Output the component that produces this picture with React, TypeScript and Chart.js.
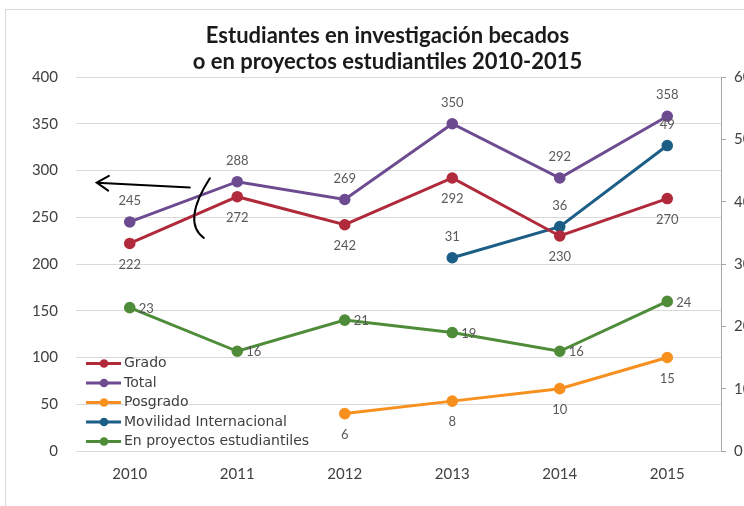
import React, { useEffect, useRef } from "react";
import { Chart, registerables } from "chart.js";

Chart.register(...registerables);

const years = ["2010", "2011", "2012", "2013", "2014", "2015"];
const grado = [222, 272, 242, 292, 230, 270];
const total = [245, 288, 269, 350, 292, 358];
const posgrado = [null, null, 6, 8, 10, 15];
const movilidad = [null, null, null, 31, 36, 49];
const proyectos = [23, 16, 21, 19, 16, 24];
const seriesNames = ["Grado", "Total", "Posgrado", "Movilidad Internacional", "En proyectos estudiantiles"];
const titleLines = ["Estudiantes en investigación becados", "o en proyectos estudiantiles 2010-2015"];

const COLORS = ["#B12A3C", "#6C4B90", "#F7901E", "#1C5E86", "#4F8C39"];

const overlay = {
  id: "overlay",
  afterDatasetsDraw(chart: any) {
    const ctx = chart.ctx;
    const ca = chart.chartArea;
    const xs = chart.scales.x;
    const ys = chart.scales.y;

    // data labels
    chart.data.datasets.forEach((ds: any, i: number) => {
      const meta = chart.getDatasetMeta(i);
      ctx.save();
      ctx.font = "13px Lato";
      ctx.fillStyle = "#595959";
      ctx.textBaseline = "middle";
      meta.data.forEach((pt: any, j: number) => {
        const v = ds.data[j];
        if (v == null) return;
        let x = pt.x;
        let y = pt.y;
        if (ds.labelPos === "above") {
          ctx.textAlign = "center";
          y -= 21;
        } else if (ds.labelPos === "below") {
          ctx.textAlign = "center";
          y += 21;
        } else {
          ctx.textAlign = "left";
          x += 9;
          y += 1;
        }
        ctx.fillText(String(v), x, y);
      });
      ctx.restore();
    });

    // legend inside plot area
    ctx.save();
    ctx.font = "14px 'DejaVu Sans'";
    ctx.textBaseline = "middle";
    ctx.textAlign = "left";
    chart.data.datasets.forEach((ds: any, i: number) => {
      const y = ca.bottom - 87.5 + i * 19.5;
      const x0 = ca.left + 10;
      ctx.strokeStyle = ds.borderColor;
      ctx.lineWidth = 3;
      ctx.beginPath();
      ctx.moveTo(x0, y);
      ctx.lineTo(x0 + 35, y);
      ctx.stroke();
      ctx.fillStyle = ds.borderColor;
      ctx.beginPath();
      ctx.arc(x0 + 18, y, 4.3, 0, Math.PI * 2);
      ctx.fill();
      ctx.fillStyle = "#404040";
      ctx.fillText(ds.label, x0 + 38, y);
    });
    ctx.restore();

    // hand-drawn arrow and bracket annotation
    const p0 = xs.getPixelForValue(0);
    const step = xs.getPixelForValue(1) - p0;
    const px = (f: number) => p0 + f * step;
    const py = (v: number) => ys.getPixelForValue(v);
    ctx.save();
    ctx.strokeStyle = "#000";
    ctx.lineWidth = 2;
    ctx.lineCap = "round";
    const sx = px(0.559), sy = py(281.8);
    const tx = px(-0.3075), ty = py(287);
    ctx.beginPath();
    ctx.moveTo(sx, sy);
    ctx.lineTo(tx, ty);
    const ang = Math.atan2(ty - sy, tx - sx);
    const hl = 14, ha = (32 * Math.PI) / 180;
    ctx.moveTo(tx - hl * Math.cos(ang - ha), ty - hl * Math.sin(ang - ha));
    ctx.lineTo(tx, ty);
    ctx.lineTo(tx - hl * Math.cos(ang + ha), ty - hl * Math.sin(ang + ha));
    ctx.stroke();
    ctx.lineWidth = 2;
    ctx.beginPath();
    ctx.moveTo(px(0.7456), py(291.7));
    ctx.quadraticCurveTo(px(0.4842), py(245.05), px(0.69), py(227.8));
    ctx.stroke();
    ctx.restore();
  },
  afterDraw(chart: any) {
    const ctx = chart.ctx;
    const ca = chart.chartArea;
    ctx.save();
    ctx.font = "bold 22px Lato";
    ctx.fillStyle = "#1a1a1a";
    ctx.textAlign = "center";
    ctx.textBaseline = "middle";
    const cx = (ca.left + ca.right) / 2 - 11;
    ctx.fillText(titleLines[0], cx, ca.top - 41);
    ctx.fillText(titleLines[1], cx, ca.top - 15);
    ctx.restore();
  },
};

export default function App() {
  const ref = useRef<HTMLCanvasElement | null>(null);

  useEffect(() => {
    if (!ref.current) return;
    const tickFont = { family: "Lato", size: 15 };
    const mk = (label: string, data: any[], color: string, axis: string, labelPos: string) => ({
      label,
      data,
      borderColor: color,
      backgroundColor: color,
      pointBackgroundColor: color,
      pointBorderColor: color,
      borderWidth: 3,
      pointRadius: 4.3,
      pointHoverRadius: 4.3,
      tension: 0,
      yAxisID: axis,
      labelPos,
    });
    const chart = new Chart(ref.current, {
      type: "line",
      data: {
        labels: years,
        datasets: [
          mk(seriesNames[0], grado, COLORS[0], "y", "below"),
          mk(seriesNames[1], total, COLORS[1], "y", "above"),
          mk(seriesNames[2], posgrado, COLORS[2], "y1", "below"),
          mk(seriesNames[3], movilidad, COLORS[3], "y1", "above"),
          mk(seriesNames[4], proyectos, COLORS[4], "y1", "right"),
        ] as any,
      },
      options: {
        animation: false,
        responsive: false,
        maintainAspectRatio: false,
        layout: { padding: { top: 77, left: 0, right: 0, bottom: 0 } },
        plugins: {
          legend: { display: false },
          title: { display: false },
          tooltip: { enabled: false },
        },
        scales: {
          x: {
            offset: true,
            grid: { display: false, drawTicks: false, offset: true },
            border: { display: false },
            ticks: { font: tickFont, color: "#404040", padding: 14 },
            afterFit(s: any) {
              s.height = 55;
            },
          },
          y: {
            position: "left",
            min: 0,
            max: 400,
            ticks: { stepSize: 50, font: tickFont, color: "#404040", padding: 18 },
            grid: { color: "#D9D9D9", drawTicks: false },
            border: { display: false },
            afterFit(s: any) {
              s.width = 76;
            },
          },
          y1: {
            position: "right",
            min: 0,
            max: 60,
            ticks: { stepSize: 10, font: tickFont, color: "#404040", padding: 8 },
            grid: { drawOnChartArea: false, color: "#A6A6A6", tickLength: 5 },
            border: { display: true, color: "#A6A6A6" },
            afterFit(s: any) {
              s.width = 59;
            },
          },
        } as any,
      },
      plugins: [overlay],
    });
    return () => chart.destroy();
  }, []);

  return (
    <div style={{ position: "fixed", left: 0, top: 0, width: 744, height: 506, overflow: "hidden", background: "#fff" }}>
      <div
        style={{
          position: "absolute",
          left: 5,
          top: 9,
          width: 800,
          height: 600,
          border: "1px solid #D9D9D9",
        }}
      />
      <canvas
        ref={ref}
        width={780}
        height={506}
        style={{ position: "absolute", left: 0, top: 0, width: 780, height: 506 }}
      />
    </div>
  );
}
